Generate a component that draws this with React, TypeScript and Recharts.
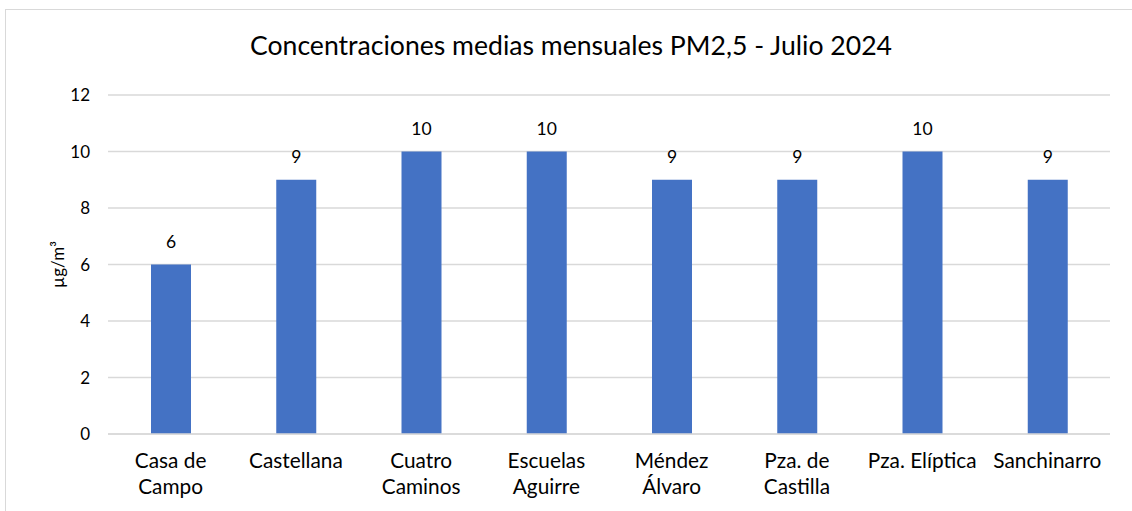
import React from 'react';
import { BarChart, Bar, XAxis, YAxis, CartesianGrid, LabelList } from 'recharts';

const stations = [
  'Casa de\nCampo',
  'Castellana',
  'Cuatro\nCaminos',
  'Escuelas\nAguirre',
  'Méndez\nÁlvaro',
  'Pza. de\nCastilla',
  'Pza. Elíptica',
  'Sanchinarro',
];
const pm25 = [6, 9, 10, 10, 9, 9, 10, 9];
const yTicks = [0, 2, 4, 6, 8, 10, 12];

const data = stations.map((name, i) => ({ name, value: pm25[i] }));

const FONT = 'Lato, "Noto Sans", sans-serif';

// multi-line category labels, like Excel wraps them
const StationTick = ({ x, y, payload }: any) => {
  const lines = String(payload.value).split('\n');
  return (
    <text x={x} y={y} textAnchor="middle" fill="#000" fontSize={20.8} fontFamily={FONT}>
      {lines.map((l, i) => (
        <tspan key={i} x={x} dy={26}>
          {l}
        </tspan>
      ))}
    </text>
  );
};

export default function App() {
  return (
    <div style={{ position: 'absolute', left: 0, top: 0, width: 1132, height: 511, background: '#fff', overflow: 'hidden', fontFamily: FONT }}>
      {/* chart frame */}
      <div style={{ position: 'absolute', left: 5, top: 9, width: 1140, height: 520, border: '1px solid #d9d9d9', boxSizing: 'border-box' }} />
      <div style={{ position: 'absolute', left: 0, top: 29, width: 1142, textAlign: 'center', fontSize: 26.6, color: '#000' }}>
        Concentraciones medias mensuales PM2,5 - Julio 2024
      </div>
      <div style={{ position: 'absolute', left: 0, top: 0 }}>
        <BarChart width={1132} height={511} data={data} margin={{ top: 95, right: 22, bottom: 0, left: 0 }}>
          <CartesianGrid vertical={false} stroke="#d9d9d9" strokeWidth={1.3} />
          <XAxis
            dataKey="name"
            height={77}
            axisLine={{ stroke: '#d9d9d9', strokeWidth: 1.3 }}
            tickLine={false}
            interval={0}
            tick={<StationTick />}
          />
          <YAxis
            width={108}
            domain={[0, 12]}
            ticks={yTicks}
            axisLine={false}
            tickLine={false}
            tickSize={10}
            tickMargin={8}
            tick={{ fill: '#000', fontSize: 17, fontFamily: FONT }}
            label={{
              value: 'µg/m³',
              angle: -90,
              position: 'insideLeft',
              offset: 58,
              style: { fill: '#000', fontSize: 17, fontFamily: FONT, textAnchor: 'middle' },
            }}
          />
          <Bar dataKey="value" fill="#4472c4" barSize={40} isAnimationActive={false}>
            <LabelList dataKey="value" position="top" offset={17} fill="#000" fontSize={17.5} fontFamily={FONT} />
          </Bar>
        </BarChart>
      </div>
    </div>
  );
}
